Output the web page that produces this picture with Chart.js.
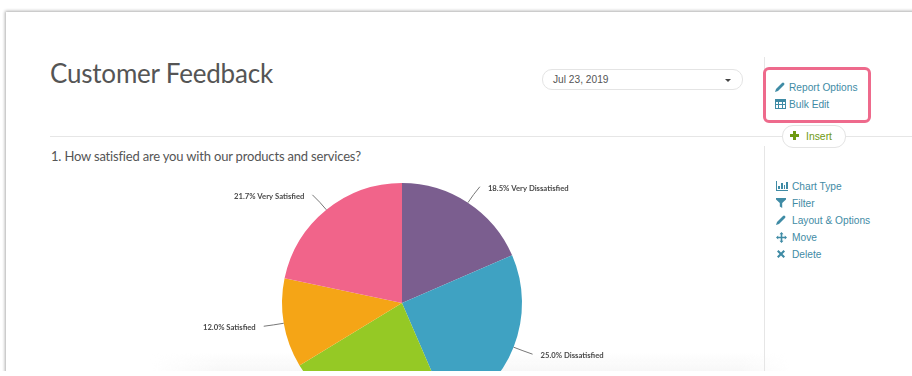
<!DOCTYPE html>
<html>
<head>
<meta charset="utf-8">
<title>Customer Feedback</title>
<script src="https://cdn.jsdelivr.net/npm/chart.js@4"></script>
<style>
  html, body { margin: 0; padding: 0; background: #fff; }
  body { width: 912px; height: 376px; overflow: hidden; position: relative; font-family: Lato, sans-serif; }
  .abs { position: absolute; white-space: nowrap; }
  .cardClip { left: 0; top: 0; width: 912px; height: 371px; overflow: hidden; }
  .card { position: absolute; left: 6px; top: 12px; width: 920px; height: 380px; box-shadow: -1px -1px 3px rgba(0,0,0,.32); background: #fff; }
  .title { left: 50px; top: 55px; font-size: 26px; letter-spacing: -.2px; line-height: 36px; color: #555; }
  .question { left: 51px; top: 147px; font-size: 13px; letter-spacing: -.18px; line-height: 18px; color: #555; }
  .hline { left: 50px; top: 136px; width: 862px; height: 1px; background: #e6e6e6; }
  .vline { left: 764px; width: 1px; background: #e6e6e6; }
  .date { left: 542px; top: 69px; width: 199px; height: 19px; border: 1px solid #e4e4e4; border-radius: 10px; }
  .date span { position: absolute; left: 10px; top: 2px; font: 10.2px/15px "Liberation Sans", sans-serif; color: #555; }
  .date i { position: absolute; left: 182px; top: 9px; border: 3.5px solid transparent; border-top: 3.5px solid #444; border-bottom: 0; }
  .highlight { left: 763px; top: 67px; width: 102px; height: 50px; border: 3px solid #ee6a8c; border-radius: 6px; background: #fff; }
  .insert { left: 782px; top: 125px; width: 62px; height: 21px; border: 1px solid #e4e4e4; border-radius: 11px; background: #fff; }
  .insert span { position: absolute; left: 23px; top: 3px; font: 10.4px/15px "Liberation Sans", sans-serif; color: #6f9a12; }
  .link { font: 10.2px/14px "Liberation Sans", sans-serif; color: #3f8ba5; }
  .link svg, .insert svg { position: absolute; fill: #3f8ba5; }
  #pieClip { position: absolute; left: 180px; top: 176px; width: 440px; height: 195px; overflow: hidden; }
  .fade { left: 150px; top: 353px; width: 640px; height: 18px;
    background: linear-gradient(rgba(244,244,244,0), rgba(244,244,244,.7));
    -webkit-mask-image: linear-gradient(to right, transparent, #000 70px, #000 590px, transparent); }
</style>
</head>
<body>
<div class="abs cardClip"><div class="card"></div></div>
<div class="abs fade"></div>
<div class="abs title">Customer Feedback</div>
<div class="abs hline"></div>
<div class="abs vline" style="top:57px;height:12px"></div>
<div class="abs vline" style="top:146px;height:225px"></div>
<div class="abs question">1. How satisfied are you with our products and services?</div>

<div class="abs date"><span>Jul 23, 2019</span><i></i></div>

<div class="abs highlight"></div>
<div class="abs link" style="left:789px;top:81px">Report Options
  <svg style="left:-14px;top:1px" width="10" height="10" viewBox="0 0 10 10"><path d="M0 10 L1 7 L7 1 Q8 0 9 1 Q10 2 9 3 L3 9 Z"/></svg></div>
<div class="abs link" style="left:789px;top:98px">Bulk Edit
  <svg style="left:-14px;top:1px" width="11" height="10" viewBox="0 0 11 10"><path d="M0 0H11V10H0ZM1 3V5H3V3ZM4 3V5H7V3ZM8 3V5H10V3ZM1 6V9H3V6ZM4 6V9H7V6ZM8 6V9H10V6Z" fill-rule="evenodd"/></svg></div>
<div class="abs insert"><svg style="left:7px;top:5px;fill:#6f9a12" width="9" height="9" viewBox="0 0 9 9"><path d="M3 0H6V3H9V6H6V9H3V6H0V3H3Z"/></svg><span>Insert</span></div>

<div class="abs link" style="left:792px;top:180px">Chart Type
  <svg style="left:-16px;top:1px" width="12" height="10" viewBox="0 0 12 10"><path d="M0 0H1V9H12V10H0ZM2 5H4V8H2ZM5 2H7V8H5ZM8 4H9V8H8ZM10 1H12V8H10Z"/></svg></div>
<div class="abs link" style="left:792px;top:197px">Filter
  <svg style="left:-16px;top:1px" width="10" height="10" viewBox="0 0 10 10"><path d="M0 0H10V1.5L6.2 5V10L3.8 8.5V5L0 1.5Z"/></svg></div>
<div class="abs link" style="left:792px;top:214px">Layout &amp; Options
  <svg style="left:-16px;top:1px" width="10" height="10" viewBox="0 0 10 10"><path d="M0 10 L1 7 L7 1 Q8 0 9 1 Q10 2 9 3 L3 9 Z"/></svg></div>
<div class="abs link" style="left:792px;top:231px">Move
  <svg style="left:-16px;top:1px" width="11" height="11" viewBox="0 0 11 11"><path d="M5.5 0L7.5 2.2H6.3V4.7H8.8V3.5L11 5.5L8.8 7.5V6.3H6.3V8.8H7.5L5.5 11L3.5 8.8H4.7V6.3H2.2V7.5L0 5.5L2.2 3.5V4.7H4.7V2.2H3.5Z"/></svg></div>
<div class="abs link" style="left:792px;top:248px">Delete
  <svg style="left:-15px;top:2px" width="8" height="8" viewBox="0 0 8 8"><path d="M1.5 0L4 2.5L6.5 0L8 1.5L5.5 4L8 6.5L6.5 8L4 5.5L1.5 8L0 6.5L2.5 4L0 1.5Z"/></svg></div>

<div id="pieClip"><canvas id="satisfactionPie" width="440" height="254"></canvas></div>

<script>
const categories = ["Very Dissatisfied", "Dissatisfied", "Neutral", "Satisfied", "Very Satisfied"];
const percentages = [18.5, 25.0, 22.8, 12.0, 21.7];
const sliceColors = ["#7b5e8f", "#3fa2c2", "#95c925", "#f5a516", "#f1648a"];

// leader line end, relative to where the line leaves the slice (null = no callout)
const leaderEnds = [[12, -16], [19, 7], null, [-20, 3], [-14, -15]];

const calloutPlugin = {
  id: "callouts",
  afterDatasetsDraw(chart) {
    const ctx = chart.ctx;
    const arcs = chart.getDatasetMeta(0).data;
    ctx.save();
    ctx.font = "bold 7.7px Lato, sans-serif";
    ctx.textBaseline = "middle";
    arcs.forEach((arc, i) => {
      const end = leaderEnds[i];
      if (!end) return;
      const mid = (arc.startAngle + arc.endAngle) / 2;
      const x0 = arc.x + Math.cos(mid) * arc.outerRadius;
      const y0 = arc.y + Math.sin(mid) * arc.outerRadius;
      const x1 = x0 + end[0];
      const y1 = y0 + end[1];
      const cx = x0 + Math.cos(mid) * 10;
      const cy = y0 + Math.sin(mid) * 10;

      ctx.strokeStyle = "#777";
      ctx.lineWidth = 1;
      ctx.beginPath();
      ctx.moveTo(x0, y0);
      ctx.quadraticCurveTo(cx, cy, x1, y1);
      ctx.stroke();

      const right = end[0] > 0;
      ctx.textAlign = right ? "left" : "right";
      ctx.fillStyle = "#4a4a4a";
      ctx.fillText(percentages[i].toFixed(1) + "% " + categories[i], x1 + (right ? 8 : -8), y1 + 1.5);
    });
    ctx.restore();
  }
};

new Chart(document.getElementById("satisfactionPie"), {
  type: "pie",
  data: {
    labels: categories,
    datasets: [{
      data: percentages,
      backgroundColor: sliceColors,
      borderWidth: 0
    }]
  },
  options: {
    responsive: false,
    animation: false,
    layout: { padding: { left: 102, right: 98, top: 7, bottom: 7 } },
    plugins: {
      legend: { display: false },
      tooltip: { enabled: false }
    }
  },
  plugins: [calloutPlugin]
});
</script>
</body>
</html>
